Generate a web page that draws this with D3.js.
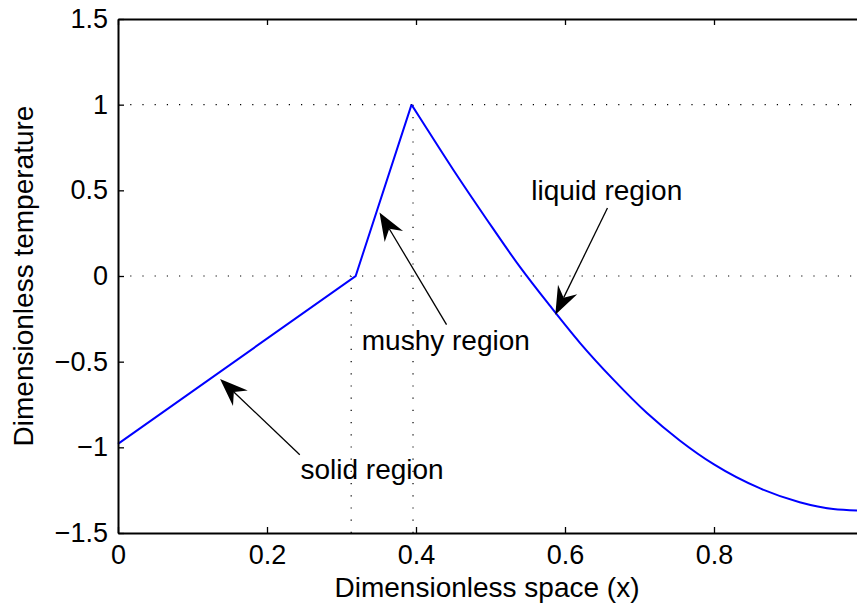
<!DOCTYPE html>
<html>
<head>
<meta charset="utf-8">
<script src="https://cdn.jsdelivr.net/npm/d3@7"></script>
<style>
  html, body { margin: 0; padding: 0; background: #ffffff; }
  svg { display: block; }
  text { font-family: "Liberation Sans", Arial, Helvetica, sans-serif; fill: #000; }
</style>
</head>
<body>
<svg id="chart" width="857" height="607"></svg>
<script>
// ---- data ----
const solidX = [0, 0.319];
const solidY = [-0.98, 0];
const mushyX = [0.319, 0.394];
const mushyY = [0, 1];
const liquidX = [0.394, 0.405, 0.45, 0.495, 0.54, 0.58, 0.62, 0.665, 0.71, 0.754, 0.80, 0.862, 0.915, 0.96, 1.0];
const liquidY = [1.0, 0.925, 0.62, 0.33, 0.05, -0.175, -0.39, -0.605, -0.80, -0.96, -1.10, -1.24, -1.32, -1.36, -1.37];
const xTicks = [0, 0.2, 0.4, 0.6, 0.8, 1];
const xTickLabels = ["0", "0.2", "0.4", "0.6", "0.8", ""];
const yTicks = [-1.5, -1, -0.5, 0, 0.5, 1, 1.5];
const yTickLabels = ["\u22121.5", "\u22121", "\u22120.5", "0", "0.5", "1", "1.5"];
const guideH = [1, 0];             // horizontal dotted lines
const guideVX = [0.313, 0.396];    // vertical dotted lines
const guideVTop = [0, 1];
const annLabels = ["solid region", "mushy region", "liquid region"];
const annTipX = [0.137, 0.351, 0.587];
const annTipY = [-0.601, 0.371, -0.226];
const annTailX = [0.244, 0.441, 0.657];
const annTailY = [-1.043, -0.284, 0.397];
const annTextX = [0.341, 0.44, 0.656];
const annTextY = [-1.14, -0.39, 0.486];
const xLabel = "Dimensionless space (x)";
const yLabel = "Dimensionless temperature";

// ---- layout ----
const svg = d3.select("#chart");
const L = 118, R = 863, T = 19, B = 533;
const x = d3.scaleLinear().domain([0, 1]).range([L, R]);
const y = d3.scaleLinear().domain([-1.5, 1.5]).range([B, T]);
const FS_TICK = 27, FS = 28;

// dotted guides
const g = svg.append("g");
guideH.forEach(v => {
  g.append("line").attr("x1", x(0)).attr("x2", x(1)).attr("y1", y(v)).attr("y2", y(v))
    .attr("stroke", "#000").attr("stroke-width", 1.2).attr("stroke-dasharray", "1.2,11");
});
guideVX.forEach((v, i) => {
  g.append("line").attr("x1", x(v)).attr("x2", x(v)).attr("y1", y(-1.5)).attr("y2", y(guideVTop[i]))
    .attr("stroke", "#000").attr("stroke-width", 1.2).attr("stroke-dasharray", "1.2,11");
});

// curve
const lineLin = d3.line().x(d => x(d[0])).y(d => y(d[1]));
const lineSmooth = d3.line().x(d => x(d[0])).y(d => y(d[1])).curve(d3.curveMonotoneX);
const solidPts = solidX.map((v, i) => [v, solidY[i]]);
const mushyPts = mushyX.map((v, i) => [v, mushyY[i]]);
const liquidPts = liquidX.map((v, i) => [v, liquidY[i]]);
svg.append("path").attr("d", lineLin(solidPts.concat(mushyPts.slice(1))))
  .attr("fill", "none").attr("stroke", "#0000ff").attr("stroke-width", 2).attr("stroke-linejoin", "miter");
svg.append("path").attr("d", lineSmooth(liquidPts))
  .attr("fill", "none").attr("stroke", "#0000ff").attr("stroke-width", 2);

// axes (box with inward ticks)
const axB = d3.axisBottom(x).tickValues(xTicks).tickFormat((d, i) => xTickLabels[i]).tickSizeInner(-6).tickSizeOuter(0).tickPadding(12);
const axT = d3.axisTop(x).tickValues(xTicks).tickFormat("").tickSizeInner(-6).tickSizeOuter(0);
const axL = d3.axisLeft(y).tickValues(yTicks).tickFormat((d, i) => yTickLabels[i]).tickSizeInner(-6).tickSizeOuter(0).tickPadding(10);
const axR = d3.axisRight(y).tickValues(yTicks).tickFormat("").tickSizeInner(-6).tickSizeOuter(0);
function style(sel) {
  sel.select(".domain").attr("stroke", "#000").attr("stroke-width", 2);
  sel.selectAll(".tick line").attr("stroke", "#000").attr("stroke-width", 1.3);
  sel.selectAll(".tick text").style("font-family", '"Liberation Sans", Arial, sans-serif').style("font-size", FS_TICK + "px").attr("fill", "#000");
}
svg.append("g").attr("transform", `translate(0,${B})`).call(axB).call(style);
svg.append("g").attr("transform", `translate(0,${T})`).call(axT).call(style);
svg.append("g").attr("transform", `translate(${L},0)`).call(axL).call(style);
svg.append("g").attr("transform", `translate(${R},0)`).call(axR).call(style);

// annotations
annLabels.forEach((lab, i) => {
  const tx = x(annTipX[i]), ty = y(annTipY[i]);
  const ex = x(annTailX[i]), ey = y(annTailY[i]);
  const dx = ex - tx, dy = ey - ty, len = Math.hypot(dx, dy);
  const ux = dx / len, uy = dy / len, nx = -uy, ny = ux;
  const HL = 28, HW = 10.7, HB = 19;
  svg.append("line").attr("x1", tx + ux * HB).attr("y1", ty + uy * HB).attr("x2", ex).attr("y2", ey)
    .attr("stroke", "#000").attr("stroke-width", 1.3);
  const pts = [
    [tx, ty],
    [tx + ux * HL + nx * HW, ty + uy * HL + ny * HW],
    [tx + ux * HB, ty + uy * HB],
    [tx + ux * HL - nx * HW, ty + uy * HL - ny * HW]
  ];
  svg.append("path").attr("d", "M" + pts.map(p => p.join(",")).join("L") + "Z").attr("fill", "#000");
  svg.append("text").attr("x", x(annTextX[i])).attr("y", y(annTextY[i]))
    .attr("text-anchor", "middle").attr("dominant-baseline", "middle")
    .style("font-size", FS + "px").text(lab);
});

// axis labels
svg.append("text").attr("x", 487).attr("y", 597).attr("text-anchor", "middle")
  .style("font-size", FS + "px").text(xLabel);
svg.append("text").attr("transform", `translate(33,${(T + B) / 2}) rotate(-90)`).attr("text-anchor", "middle")
  .style("font-size", FS + "px").text(yLabel);
</script>
</body>
</html>
